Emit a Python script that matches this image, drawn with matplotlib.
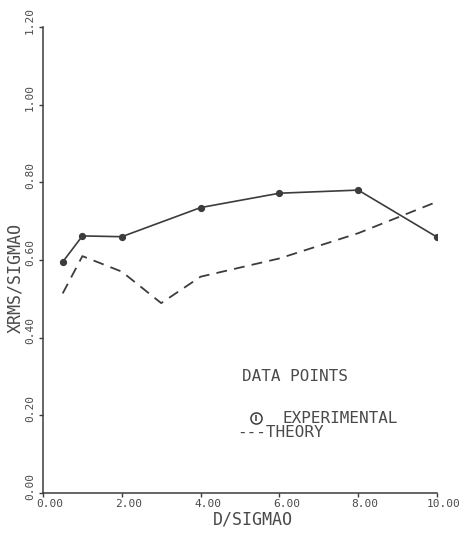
import matplotlib
matplotlib.use("Agg")
import matplotlib.pyplot as plt
import matplotlib.transforms as mtransforms

# Experimental measurements
exp_x = [0.5, 1.0, 2.0, 4.0, 6.0, 8.0, 10.0]
exp_y = [0.595, 0.662, 0.660, 0.735, 0.772, 0.780, 0.659]

# Theoretical curve
theory_x = [0.5, 1.0, 2.0, 3.0, 4.0, 6.0, 8.0, 10.0]
theory_y = [0.514, 0.610, 0.570, 0.489, 0.557, 0.604, 0.669, 0.750]

x_ticks = [0.0, 2.0, 4.0, 6.0, 8.0, 10.0]
x_ticklabels = ["0.00", "2.00", "4.00", "6.00", "8.00", "10.00"]
y_ticks = [0.0, 0.2, 0.4, 0.6, 0.8, 1.0, 1.2]
y_ticklabels = ["0.00", "0.20", "0.40", "0.60", "0.80", "1.00", "1.20"]

INK = "#3c3c3c"
TXT = "#4a4a4a"
FONT = "DejaVu Sans Mono"

fig = plt.figure(figsize=(4.72, 5.33), dpi=100)
ax = fig.add_axes([43 / 472, 40 / 533, 394 / 472, 466 / 533])

ax.plot(exp_x, exp_y, color=INK, lw=1.2, marker="o", ms=4.2,
        mfc=INK, mec=INK)
ax.plot(theory_x, theory_y, color=INK, lw=1.3, ls=(0, (6, 4)))

ax.set_xlim(0, 10)
ax.set_ylim(0, 1.2)

for side in ("top", "right"):
    ax.spines[side].set_visible(False)
for side in ("left", "bottom"):
    ax.spines[side].set_color(INK)
    ax.spines[side].set_linewidth(1.1)

ax.set_xticks(x_ticks)
ax.set_xticklabels(x_ticklabels, family=FONT, fontsize=8, color=TXT)
ax.set_yticks(y_ticks)
ax.set_yticklabels(y_ticklabels, family=FONT, fontsize=8, color=TXT,
                   rotation=90, va="center", ha="center")
ax.tick_params(axis="both", direction="out", length=3, width=1,
               color=INK)
ax.tick_params(axis="x", pad=1.5)
ax.tick_params(axis="y", pad=6.5)

# plotter-style label placement: each tick label sits a little past its tick
shift_x = mtransforms.ScaledTranslation(7 / 100, 0, fig.dpi_scale_trans)
for lab in ax.get_xticklabels():
    lab.set_transform(lab.get_transform() + shift_x)
shift_y = mtransforms.ScaledTranslation(0, 7 / 100, fig.dpi_scale_trans)
for lab in ax.get_yticklabels():
    lab.set_transform(lab.get_transform() + shift_y)

ax.set_xlabel("D/SIGMAO", family=FONT, fontsize=12, color=TXT, va="center")
ax.xaxis.set_label_coords(0.533, -0.056)
ax.set_ylabel("XRMS/SIGMAO", family=FONT, fontsize=12, color=TXT,
              va="center", ha="center")
ax.yaxis.set_label_coords(-0.07, 0.461)

# Key
ax.text(5.05, 0.299, "DATA POINTS", family=FONT, fontsize=11.5, color=TXT,
        va="center", ha="left")
ax.plot([5.41], [0.193], marker="o", ms=8, mfc="none", mec=INK, mew=1.1,
        clip_on=False)
ax.plot([5.41], [0.193], marker="|", ms=4, mec=INK, mew=1.1, clip_on=False)
ax.text(6.09, 0.193, "EXPERIMENTAL", family=FONT, fontsize=11.5, color=TXT,
        va="center", ha="left")
ax.text(4.92, 0.155, "---THEORY", family=FONT, fontsize=11.5, color=TXT,
        va="center", ha="left")

fig.savefig("out.png", dpi=100, facecolor="white")
